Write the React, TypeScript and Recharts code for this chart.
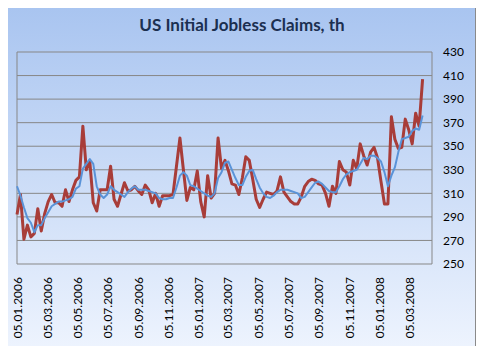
import React from 'react';
import { LineChart, Line, XAxis, YAxis, CartesianGrid } from 'recharts';

// weekly initial claims (th), first week = 05.01.2006
const FIRST_WEEK = '05.01.2006';

const claims = [
  292, 309, 271, 283, 273, 276, 297, 278, 293, 303,
  309, 302, 302, 299, 313, 303, 313, 321, 324, 367,
  330, 337, 302, 295, 313, 313, 313, 333, 305, 299,
  309, 319, 312, 313, 316, 312, 309, 317, 313, 302,
  310, 299, 308, 308, 308, 309, 333, 357, 330, 304,
  315, 313, 329, 303, 290, 325, 306, 310, 357, 331,
  338, 329, 318, 317, 309, 323, 341, 338, 322, 305,
  298, 305, 311, 310, 309, 312, 324, 311, 307, 303,
  301, 301, 307, 316, 320, 322, 321, 318, 317, 310,
  299, 316, 310, 337, 330, 328, 317, 338, 331, 352,
  342, 334, 345, 349, 340, 320, 301, 301, 375, 356,
  348, 349, 373, 364, 352, 378, 367, 407,
];

// 4-week average
const avg4w = [
  316, 308, 298, 289, 285, 277, 283, 283, 289, 294,
  299, 301, 303, 303, 304, 305, 307, 314, 316, 331,
  335, 339, 335, 316, 309, 306, 309, 316, 313, 311,
  309, 307, 311, 314, 316, 313, 313, 313, 312, 311,
  310, 306, 305, 305, 306, 306, 315, 325, 328, 325,
  317, 316, 314, 312, 310, 308, 307, 310, 323, 328,
  336, 337, 330, 323, 317, 317, 324, 329, 330, 322,
  315, 310, 307, 306, 308, 311, 313, 313, 313, 312,
  311, 310, 306, 307, 311, 315, 319, 320, 318, 315,
  312, 311, 311, 316, 322, 326, 328, 329, 330, 335,
  340, 339, 342, 342, 340, 337, 328, 316, 325, 332,
  345, 356, 357, 358, 363, 365, 364, 376,
];

const dateTicks = [
  '05.01.2006', '05.03.2006', '05.05.2006', '05.07.2006', '05.09.2006',
  '05.11.2006', '05.01.2007', '05.03.2007', '05.05.2007', '05.07.2007',
  '05.09.2007', '05.11.2007', '05.01.2008', '05.03.2008',
];

const yTicks = [250, 270, 290, 310, 330, 350, 370, 390, 410, 430];

const AXIS_END_DAY = 838;
const FONT = 'Lato, "Open Sans", sans-serif';

const parseDate = (s: string) => {
  const [d, m, y] = s.split('.').map(Number);
  return Date.UTC(y, m - 1, d);
};
const t0 = parseDate(FIRST_WEEK);
const toDay = (s: string) => Math.round((parseDate(s) - t0) / 86400000);

const data = claims.map((v, i) => ({ day: i * 7, claims: v, avg: avg4w[i] }));
const tickDays = dateTicks.map(toDay);
const labelByDay = new Map(tickDays.map((d, i) => [d, dateTicks[i]]));

function DateTick({ x, y, payload }: any) {
  return (
    <text
      x={x}
      y={y}
      transform={`rotate(-90 ${x} ${y})`}
      textAnchor="end"
      dy="0.45em"
      fontSize={12}
      fill="#000"
      fontFamily={FONT}
    >
      {labelByDay.get(payload.value)}
    </text>
  );
}

export default function App() {
  return (
    <div style={{ position: 'relative', width: 484, height: 354, margin: -8, background: '#fff' }}>
      <div
        style={{
          position: 'absolute',
          left: 3,
          top: 3,
          width: 471,
          height: 347,
          border: '1px solid #8a8a8a',
          background: 'linear-gradient(to bottom, #a8c4f0, #eef4fe)',
        }}
      />
      <div
        style={{
          position: 'absolute',
          left: 0,
          top: 15,
          width: 484,
          textAlign: 'center',
          fontFamily: FONT,
          fontWeight: 700,
          fontSize: 17,
          lineHeight: '20px',
          color: '#1b2f50',
        }}
      >
        US Initial Jobless Claims, th
      </div>
      <div style={{ position: 'absolute', left: 0, top: 0 }}>
        <LineChart
          width={484}
          height={354}
          data={data}
          margin={{ top: 52, right: 0, left: 17, bottom: 0 }}
          style={{ fontFamily: FONT }}
        >
          <CartesianGrid
            stroke="#878787"
            strokeWidth={1}
            verticalCoordinatesGenerator={({ offset }: any) => [offset.left, offset.left + offset.width]}
          />
          <XAxis
            dataKey="day"
            type="number"
            domain={[0, AXIS_END_DAY]}
            ticks={tickDays}
            interval={0}
            height={90}
            axisLine={false}
            tickLine={false}
            tickMargin={7}
            tick={<DateTick />}
          />
          <YAxis
            orientation="right"
            domain={[250, 430]}
            ticks={yTicks}
            width={52}
            axisLine={false}
            tickLine={false}
            tickMargin={5}
            tick={{ fill: '#000', fontSize: 12, fontFamily: FONT, textAnchor: 'start' }}
          />
          <Line
            type="linear"
            dataKey="claims"
            stroke="#a83d39"
            strokeWidth={3}
            dot={false}
            strokeLinejoin="round"
            isAnimationActive={false}
          />
          <Line
            type="linear"
            dataKey="avg"
            stroke="#5a93d8"
            strokeWidth={2}
            dot={false}
            strokeLinejoin="round"
            isAnimationActive={false}
          />
        </LineChart>
      </div>
    </div>
  );
}
